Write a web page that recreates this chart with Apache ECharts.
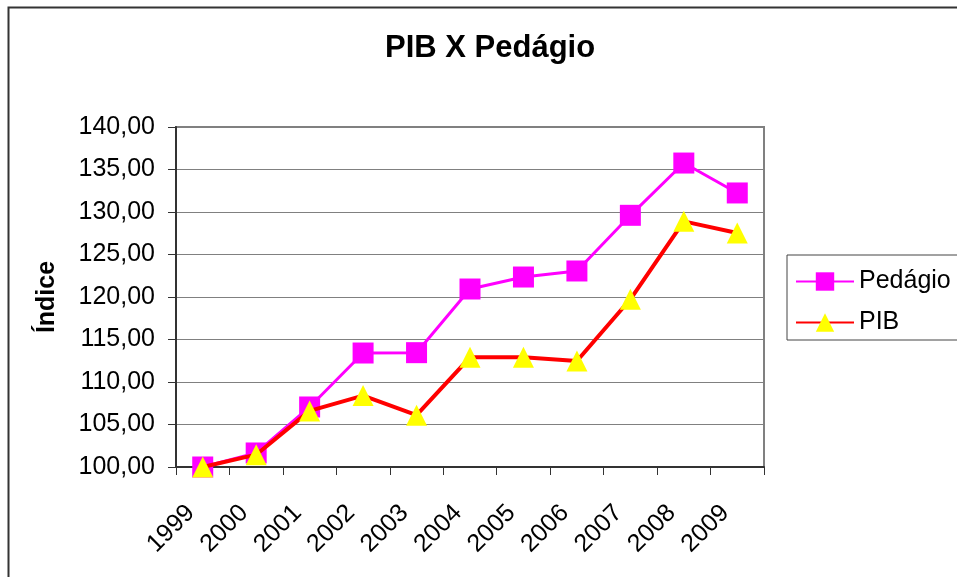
<!DOCTYPE html>
<html>
<head>
<meta charset="utf-8">
<script src="https://cdn.jsdelivr.net/npm/echarts@6/dist/echarts.min.js"></script>
<style>html,body{margin:0;padding:0;background:#fff;}#c{width:957px;height:577px;}</style>
</head>
<body>
<div id="c"></div>
<script>
var titleText = 'PIB X Pedágio';
var yAxisName = 'Índice';
var years = ['1999','2000','2001','2002','2003','2004','2005','2006','2007','2008','2009'];
var pedagio = [100.00, 101.65, 107.06, 113.41, 113.45, 120.94, 122.35, 123.06, 129.61, 135.76, 132.24];
var pib = [100.00, 101.45, 106.60, 108.40, 106.10, 112.90, 112.90, 112.47, 119.73, 128.90, 127.53];
var seriesNames = ['Pedágio', 'PIB'];
var yMin = 100, yMax = 140, yStep = 5;

var font = 'Liberation Sans, Arial, sans-serif';
var chart = echarts.init(document.getElementById('c'), null, {renderer: 'canvas'});
chart.setOption({
  animation: false,
  backgroundColor: '#ffffff',
  title: {
    text: titleText,
    left: 380, top: 28,
    textStyle: {fontFamily: font, fontSize: 31, fontWeight: 'bold', color: '#000'}
  },
  grid: {left: 176, right: 193, top: 127, bottom: 110, show: true, borderColor: '#808080', borderWidth: 2},
  legend: {
    orient: 'vertical',
    left: 790, top: 264,
    itemWidth: 58, itemHeight: 23, itemGap: 16,
    textStyle: {fontFamily: font, fontSize: 25, color: '#000'},
    data: seriesNames
  },
  xAxis: {
    type: 'category',
    data: years,
    boundaryGap: true,
    axisLine: {lineStyle: {color: '#333', width: 2}},
    axisTick: {show: true, length: 8, lineStyle: {color: '#333', width: 1}},
    axisLabel: {rotate: 45, margin: 30, padding: [0, 17, 0, 0], fontFamily: font, fontSize: 25, color: '#000', interval: 0},
    splitLine: {show: false}
  },
  yAxis: {
    type: 'value',
    min: yMin, max: yMax, interval: yStep,
    name: yAxisName,
    nameLocation: 'middle',
    nameGap: 116,
    nameTextStyle: {fontFamily: font, fontSize: 25, fontWeight: 'bold', color: '#000'},
    axisLine: {show: true, lineStyle: {color: '#333', width: 2}},
    axisTick: {show: true, length: 8, lineStyle: {color: '#333', width: 1}},
    axisLabel: {margin: 21, fontFamily: font, fontSize: 25, color: '#000',
      formatter: function (v) { return v.toFixed(2).replace('.', ','); }},
    splitLine: {show: true, lineStyle: {color: '#808080', width: 1}}
  },
  series: [
    {
      name: seriesNames[0], type: 'line', data: pedagio,
      symbol: 'rect', symbolSize: 21,
      lineStyle: {color: '#ff00ff', width: 3},
      itemStyle: {color: '#ff00ff'},
      z: 2
    },
    {
      name: seriesNames[1], type: 'line', data: pib,
      symbol: 'triangle', symbolSize: 21,
      lineStyle: {color: '#ff0000', width: 4},
      itemStyle: {color: '#ffff00'},
      z: 3
    }
  ],
  graphic: [
    {type: 'rect', left: 6, top: 5, shape: {x: 0, y: 0, width: 1000, height: 1000},
     style: {fill: 'none', stroke: '#333', lineWidth: 2}, silent: true},
    {type: 'rect', shape: {x: 787, y: 255, width: 200, height: 85},
     style: {fill: 'none', stroke: '#444', lineWidth: 1}, silent: true, z: 0}
  ]
});
</script>
</body>
</html>
